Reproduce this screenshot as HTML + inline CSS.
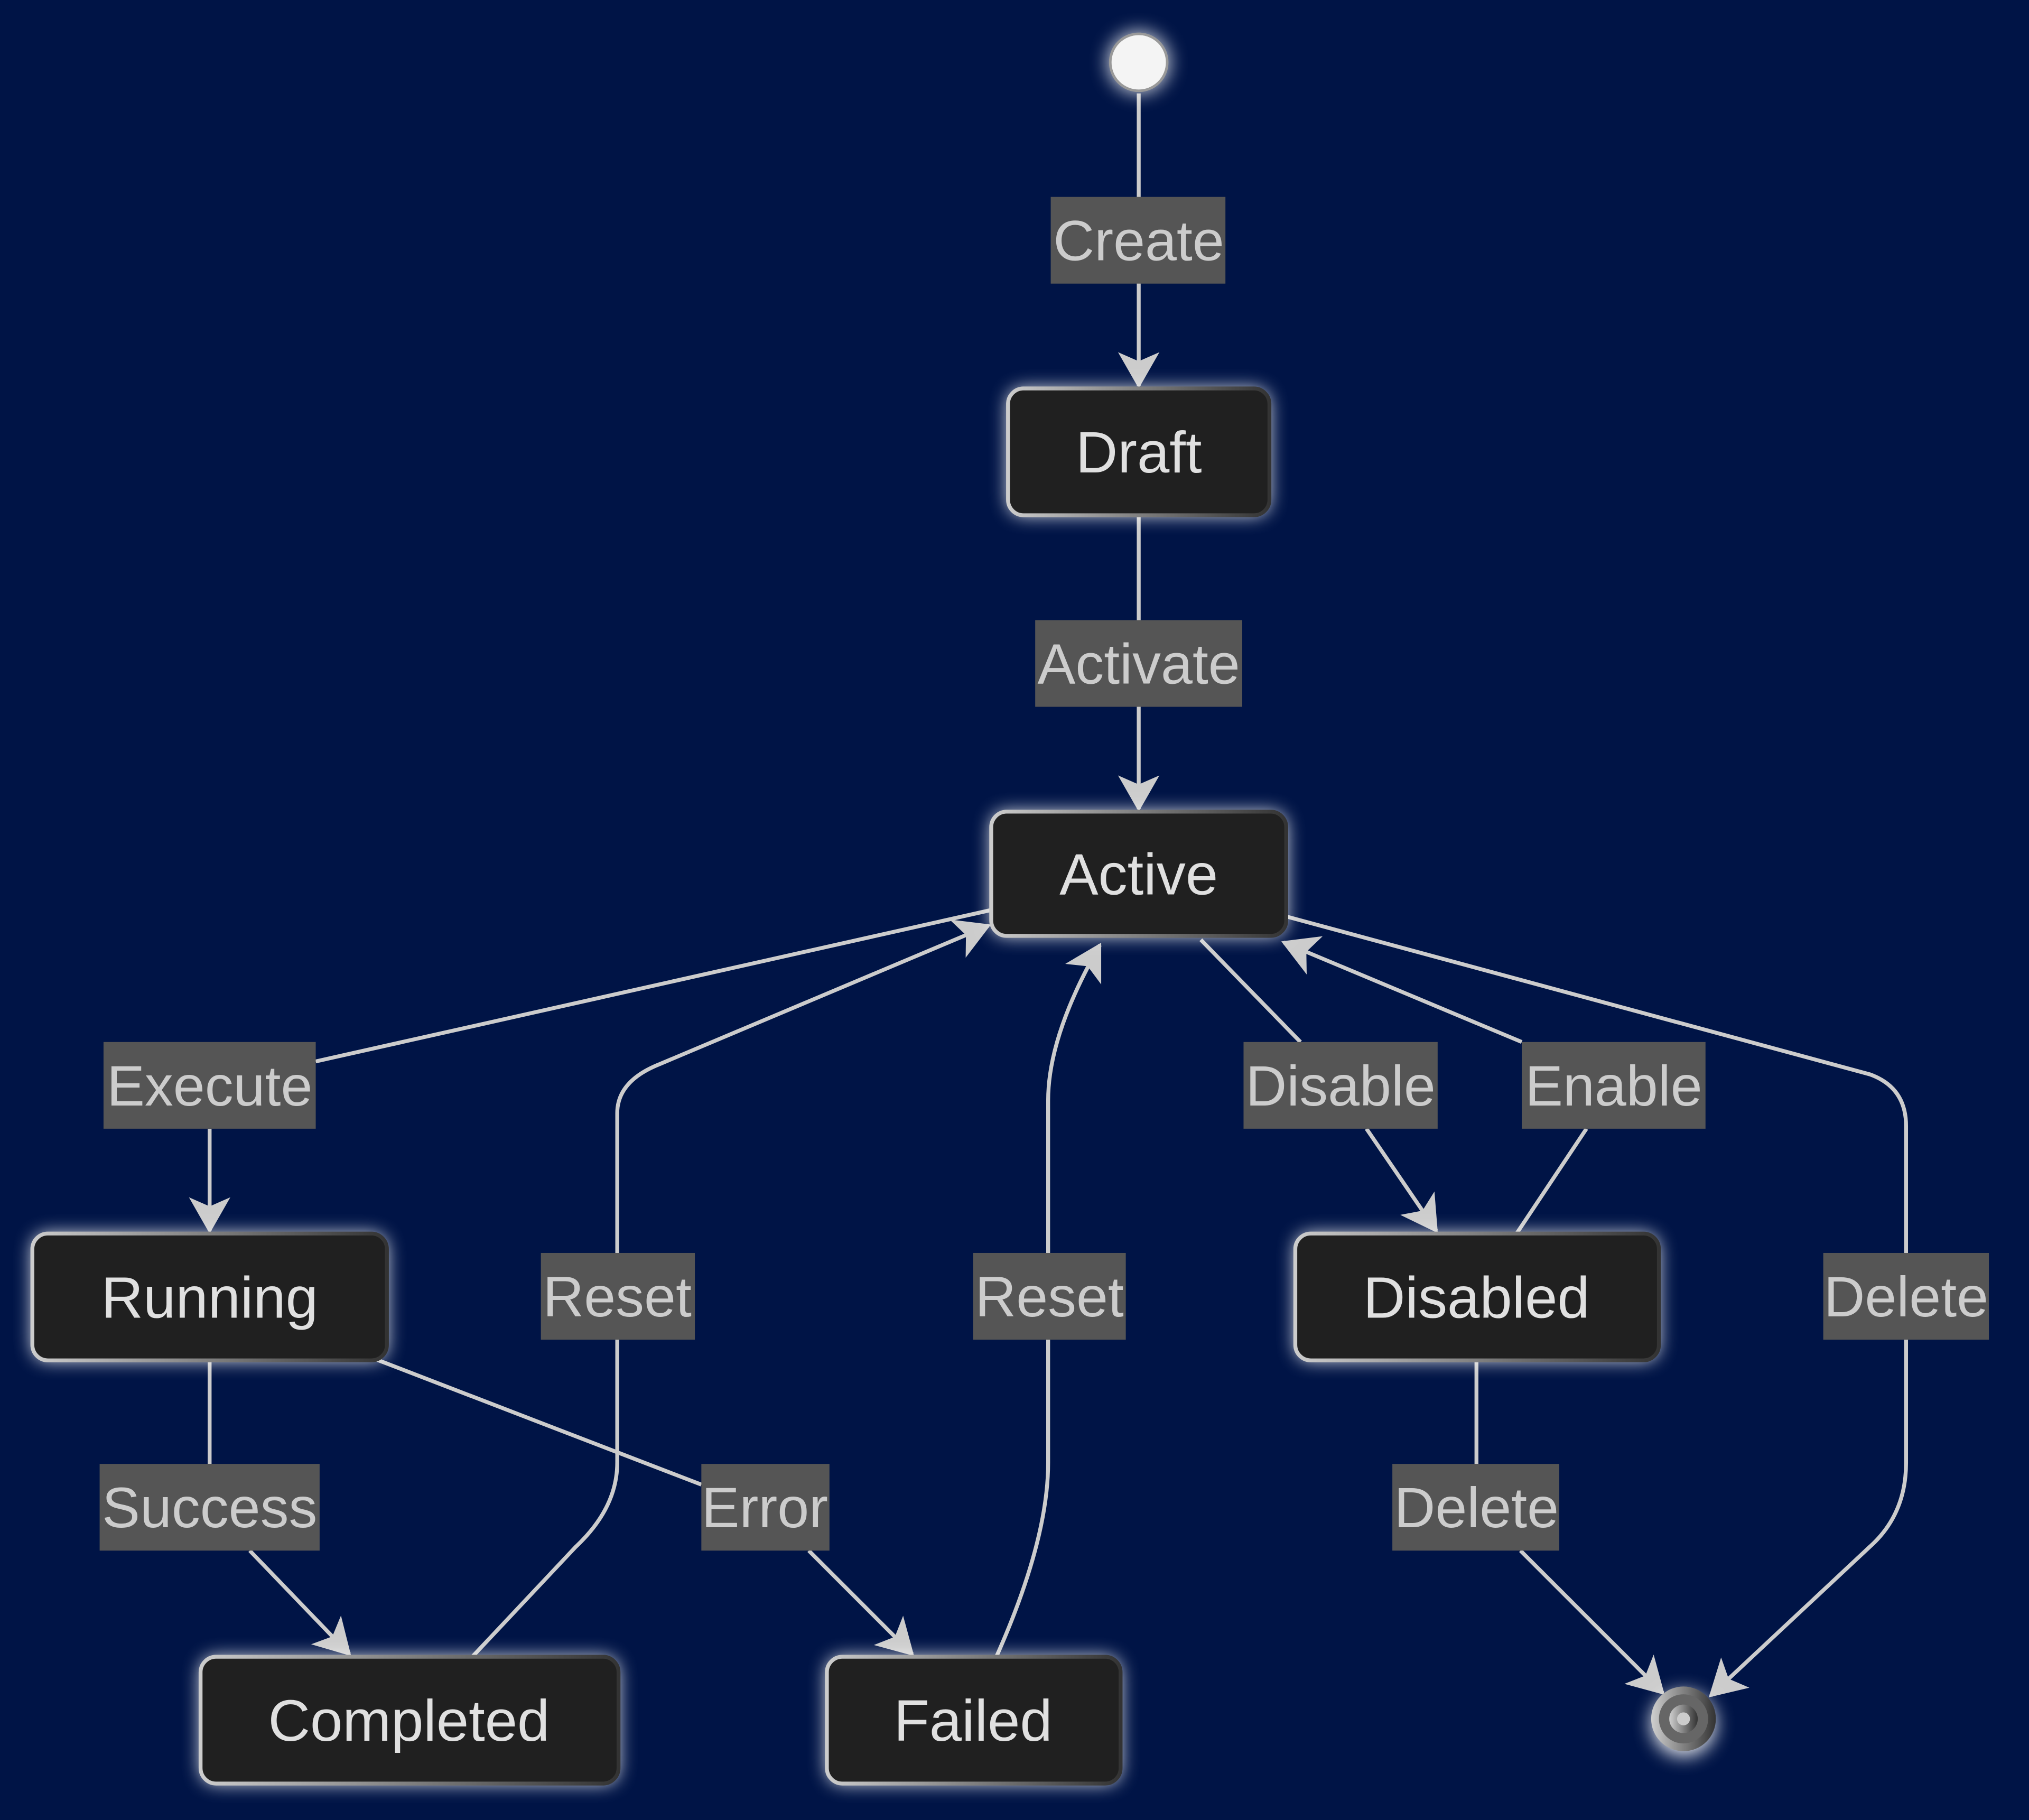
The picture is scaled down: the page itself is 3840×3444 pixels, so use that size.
<!DOCTYPE html>
<html><head><meta charset="utf-8"><style>
html,body{margin:0;padding:0;background:#001446;}
svg{display:block;}
text{font-family:"Liberation Sans",Arial,sans-serif;}
</style></head><body>
<svg width="3840" height="3444" viewBox="0 0 1568 1406" xmlns="http://www.w3.org/2000/svg">
<defs>
<linearGradient id="ns" x1="0" x2="1" y1="0" y2="0"><stop offset="0" stop-color="#cccccc"/><stop offset="1" stop-color="#333333"/></linearGradient>
<linearGradient id="eg" x1="0" x2="1"><stop offset="0" stop-color="#cfcfcf"/><stop offset="1" stop-color="#333"/></linearGradient>
<filter id="g2" x="-30%" y="-30%" width="160%" height="160%"><feGaussianBlur stdDeviation="7"/></filter>
<marker id="ar" markerUnits="userSpaceOnUse" markerWidth="34" markerHeight="34" refX="26" refY="16" orient="auto"><path d="M0,0 L28,16 L0,32 L7,16 z" fill="#cccccc"/></marker>
</defs>
<rect width="1568" height="1406" fill="#001446"/>
<g fill="none" stroke="#cccccc" stroke-width="3" marker-end="url(#ar)">
<path d="M880,72 L880,298"/>
<path d="M880,398 L880,625"/>
<path d="M766,703 L244,820 M162,872 L162,951"/>
<path d="M928,726 L1005,805 M1056,872 L1110,951"/>
<path d="M1172,953 L1226,872 M1176,805 L992,728"/>
<path d="M994,708 L1445,830 Q1473,840 1473,870 L1473,1130 Q1473,1170 1445,1195 L1322,1310"/>
<path d="M1141,1051 L1141,1131 M1175,1198 L1285,1308"/>
<path d="M162,1051 L162,1131 M193,1198 L270,1278"/>
<path d="M290,1050 L542,1147 M625,1198 L705,1278"/>
<path d="M365,1280 L445,1195 Q477,1165 477,1130 L477,860 Q477,835 510,822 L764,715"/>
<path d="M770,1280 Q810,1190 810,1130 L810,850 Q810,800 850,730"/>
</g>
<g fill="#555555">
<rect x="812" y="152" width="135" height="67"/>
<rect x="800" y="479" width="160" height="67"/>
<rect x="80" y="805" width="164" height="67"/>
<rect x="961" y="805" width="150" height="67"/>
<rect x="1176" y="805" width="142" height="67"/>
<rect x="418" y="968" width="119" height="67"/>
<rect x="752" y="968" width="118" height="67"/>
<rect x="1409" y="968" width="128" height="67"/>
<rect x="77" y="1131" width="170" height="67"/>
<rect x="542" y="1131" width="99" height="67"/>
<rect x="1076" y="1131" width="129" height="67"/>
</g>
<g fill="#cccccc" font-size="44" text-anchor="middle">
<text x="880" y="201">Create</text>
<text x="880" y="528">Activate</text>
<text x="162" y="854">Execute</text>
<text x="1036" y="854">Disable</text>
<text x="1247" y="854">Enable</text>
<text x="477" y="1017">Reset</text>
<text x="811" y="1017">Reset</text>
<text x="1473" y="1017">Delete</text>
<text x="162" y="1180">Success</text>
<text x="591" y="1180">Error</text>
<text x="1141" y="1180">Delete</text>
</g>
<g>
<circle cx="880" cy="48" r="24" fill="#fff" filter="url(#g2)" opacity="0.8"/>
<circle cx="880" cy="48" r="22" fill="#f4f4f4" stroke="#999" stroke-width="2"/>
<g filter="url(#g2)" fill="#ffffff" opacity="0.9">
<rect x="779" y="300" width="202" height="98" rx="12"/>
<rect x="766" y="627" width="228" height="96" rx="12"/>
<rect x="25" y="953" width="274" height="98" rx="12"/>
<rect x="1001" y="953" width="281" height="98" rx="12"/>
<rect x="155" y="1280" width="323" height="98" rx="12"/>
<rect x="639" y="1280" width="227" height="98" rx="12"/>
<circle cx="1301" cy="1332" r="25"/>
</g>
<g fill="#202020" stroke="url(#ns)" stroke-width="3">
<rect x="779" y="300" width="202" height="98" rx="12"/>
<rect x="766" y="627" width="228" height="96" rx="12"/>
<rect x="25" y="953" width="274" height="98" rx="12"/>
<rect x="1001" y="953" width="281" height="98" rx="12"/>
<rect x="155" y="1280" width="323" height="98" rx="12"/>
<rect x="639" y="1280" width="227" height="98" rx="12"/>
</g>
<circle cx="1301" cy="1328" r="25" fill="url(#eg)"/>
<circle cx="1301" cy="1328" r="19" fill="#666" />
<circle cx="1301" cy="1328" r="11" fill="url(#eg)"/>
<circle cx="1301" cy="1328" r="5" fill="#ccc"/>
</g>
<g fill="#e0e0e0" font-size="45" text-anchor="middle">
<text x="880" y="365">Draft</text>
<text x="880" y="691">Active</text>
<text x="162" y="1018">Running</text>
<text x="1141" y="1018">Disabled</text>
<text x="316" y="1345">Completed</text>
<text x="752" y="1345">Failed</text>
</g>
</svg>
</body></html>
